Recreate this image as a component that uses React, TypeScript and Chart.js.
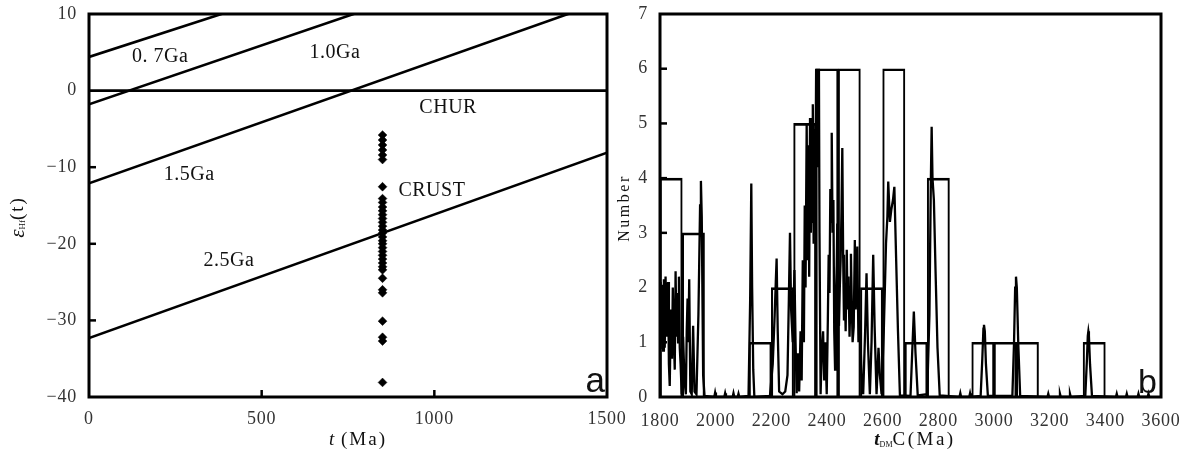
import React, { useEffect, useRef } from 'react';
import { Chart, registerables } from 'chart.js';

Chart.register(...registerables);

const SERIF = '"Liberation Serif", "DejaVu Serif", serif';
const SANS = '"Liberation Sans", "DejaVu Sans", sans-serif';

// ---------------- Panel a: εHf(t) vs t ----------------
const modelAges = [0, 1500];
const line07Ga = [4.4, 26.3];
const line10Ga = [-1.8, 21.3];
const line15Ga = [-12.1, 11.8];
const line25Ga = [-32.3, -8.1];
const churLine = [0, 0];
const sampleAge = 850;
const sampleEpsHf = [
  -5.8, -6.45, -7.1, -7.75, -8.4, -9.0,
  -12.55,
  -14.1, -14.6, -15.2, -15.7, -16.2, -16.7, -17.2, -17.7, -18.2, -18.6, -19.1, -19.6,
  -20.0, -20.5, -21.0, -21.5, -22.0, -22.5, -23.0, -23.4,
  -24.5, -26.0, -26.4,
  -30.1, -32.2, -32.7,
  -38.1,
];
const xTicksA = [0, 500, 1000, 1500];
const yTicksA = [10, 0, -10, -20, -30, -40];
const lineLabelsA = ['0. 7Ga', '1.0Ga', 'CHUR', '1.5Ga', 'CRUST', '2.5Ga'];
const lineLabelAgesA = [206, 712, 1040, 290, 993, 405];
const lineLabelEpsA = [4.4, 5.0, -2.3, -11.0, -13.1, -22.2];

// ---------------- Panel b: tDM C histogram ----------------
const binStarts = [1800, 1880, 2120, 2200, 2280, 2360, 2440, 2520, 2600, 2680, 2760, 2920, 3000, 3080, 3320];
const binCounts = [4, 3, 1, 2, 5, 6, 6, 2, 6, 1, 4, 1, 1, 1, 1];
const binWidth = 80;
const kdeAges = [
  1800, 1802, 1805, 1808, 1811, 1814, 1817, 1820, 1823, 1826, 1829, 1832, 1835, 1839, 1843, 1846, 1849, 1853,
  1856, 1859, 1862, 1865, 1868, 1871, 1874, 1878,
  1883, 1888, 1893, 1896, 1899, 1902, 1905, 1909, 1914, 1919, 1924, 1931, 1938, 1944, 1947, 1950, 1955, 1960,
  1995, 1998, 2001, 2031, 2034, 2037, 2061, 2064, 2067, 2079, 2082, 2085,
  2118, 2124, 2128, 2131, 2135, 2139,
  2195, 2205, 2212, 2216, 2219, 2223, 2228, 2240, 2250, 2258, 2263, 2267, 2271, 2277, 2283, 2287, 2291,
  2296, 2300, 2305, 2309, 2313, 2317, 2320, 2323, 2327, 2330, 2333, 2336, 2339, 2342, 2345, 2347, 2349,
  2352, 2355, 2358, 2361, 2364, 2366, 2369, 2371, 2373, 2377,
  2381, 2386, 2390, 2394, 2399, 2403, 2406, 2409, 2412, 2415, 2417, 2420, 2423, 2426, 2429, 2432, 2435,
  2437, 2440, 2443, 2446, 2449, 2452, 2455, 2458, 2461, 2464, 2467, 2471, 2474, 2477, 2481, 2484, 2486,
  2489, 2492, 2496, 2500, 2503, 2506, 2509, 2513, 2518, 2524, 2530, 2537, 2542, 2547, 2554,
  2560, 2566, 2571, 2578, 2585, 2590, 2596, 2604, 2612, 2617, 2620, 2626, 2631, 2637, 2642, 2648, 2655, 2662,
  2700, 2706, 2712, 2718, 2726,
  2760, 2768, 2773, 2776, 2779, 2784, 2790, 2797, 2805,
  2876, 2879, 2882, 2911, 2914, 2917,
  2952, 2958, 2962, 2964, 2967, 2971, 2978,
  3066, 3072, 3076, 3079, 3082, 3087, 3094,
  3192, 3195, 3198, 3234, 3237, 3240, 3270, 3273, 3276,
  3328, 3334, 3337, 3339, 3341, 3345, 3352,
  3438, 3441, 3444, 3474, 3477, 3480, 3516, 3519, 3522, 3552, 3555, 3558,
];
const kdeValues = [
  0.9, 2.1, 1.0, 2.05, 0.85, 2.15, 0.9, 2.2, 1.1, 2.0, 2.1, 0.6, 0.2, 1.6, 0.7, 2.0, 1.2, 0.5,
  2.3, 1.1, 1.9, 1.0, 2.2, 0.9, 0.6, 0.05,
  1.1, 0.3, 0.05, 1.2, 1.8, 1.0, 2.15, 0.1, 0.05, 1.3, 0.1, 0.05, 1.5, 3.5, 3.95, 3.3, 0.4, 0.02,
  0, 0.08, 0, 0, 0.07, 0, 0, 0.07, 0, 0, 0.06, 0,
  0.02, 1.8, 3.9, 2.0, 0.5, 0,
  0.02, 0.6, 1.5, 2.1, 2.53, 1.2, 0.1, 0.05, 0.1, 0.4, 1.8, 3.0, 1.6, 1.0, 2.32, 1.0, 0.07,
  0.8, 0.1, 1.2, 0.3, 2.5, 1.0, 3.5, 2.0, 5.0, 2.5, 4.6, 2.2, 5.1, 3.0, 4.8, 3.2, 5.35,
  2.8, 4.9, 3.5, 6.0, 4.2, 6.0, 5.0, 6.0, 3.0, 0.05,
  0.8, 1.2, 0.3, 1.0, 0.05, 1.4, 2.6, 1.9, 3.8, 3.2, 4.83, 3.0, 3.6, 1.2, 0.5, 1.8, 2.4,
  3.17, 2.0, 1.3, 2.0, 2.5, 3.4, 4.55, 2.6, 1.4, 2.0, 1.2, 2.69, 1.6, 2.2, 1.1, 1.8, 2.62,
  1.7, 1.0, 1.28, 2.87, 1.6, 2.2, 2.75, 1.0, 1.4, 0.4, 0.05, 1.2, 2.26, 1.0, 0.05,
  1.0, 2.6, 1.3, 0.05, 0.9, 0.4, 0.05, 1.2, 2.8, 3.3, 3.94, 3.2, 3.42, 3.6, 3.84, 2.6, 1.2, 0.03,
  0.02, 0.8, 1.56, 0.8, 0.03,
  0.05, 1.5, 3.9, 4.94, 4.0, 3.6, 2.3, 0.9, 0.03,
  0, 0.07, 0, 0, 0.07, 0,
  0.02, 0.7, 1.25, 1.32, 1.2, 0.6, 0.02,
  0.02, 1.0, 2.0, 2.2, 2.0, 1.0, 0.02,
  0, 0.06, 0, 0, 0.06, 0, 0, 0.06, 0,
  0.02, 0.7, 1.12, 1.2, 1.12, 0.6, 0.02,
  0, 0.06, 0, 0, 0.06, 0, 0, 0.06, 0, 0, 0.06, 0,
];
const xTicksB = [1800, 2000, 2200, 2400, 2600, 2800, 3000, 3200, 3400, 3600];
const yTicksB = [0, 1, 2, 3, 4, 5, 6, 7];

type Run = { text: string; font: string; dy?: number; spacing?: number };

function drawRuns(ctx: CanvasRenderingContext2D, runs: Run[], cx: number, cy: number, rotate: boolean) {
  ctx.save();
  ctx.translate(cx, cy);
  if (rotate) ctx.rotate(-Math.PI / 2);
  ctx.textBaseline = 'middle';
  ctx.textAlign = 'left';
  let total = 0;
  const widths = runs.map((r) => {
    ctx.font = r.font;
    (ctx as any).letterSpacing = (r.spacing || 0) + 'px';
    const w = ctx.measureText(r.text).width;
    total += w;
    return w;
  });
  let x = -total / 2;
  runs.forEach((r, i) => {
    ctx.font = r.font;
    (ctx as any).letterSpacing = (r.spacing || 0) + 'px';
    ctx.fillText(r.text, x, r.dy || 0);
    x += widths[i];
  });
  ctx.restore();
}

function makeDecor(opts: {
  yIn: number[];
  xIn: number[];
  labels: { text: string; x: number; y: number }[];
  corner: string;
  cornerFont: string;
  cornerDx: number;
  cornerDy: number;
  titles: { runs: Run[]; x: number; y: number; rotate: boolean }[];
}) {
  return {
    id: 'decor',
    beforeDraw(chart: any) {
      chart.ctx.letterSpacing = '0.8px';
    },
    afterDraw(chart: any) {
      const { ctx, chartArea: ca, scales } = chart;
      ctx.save();
      ctx.letterSpacing = '0px';
      ctx.strokeStyle = '#000';
      ctx.lineWidth = 3;
      ctx.strokeRect(ca.left, ca.top, ca.right - ca.left, ca.bottom - ca.top);
      ctx.lineWidth = 2.5;
      opts.yIn.forEach((v) => {
        const y = scales.y.getPixelForValue(v);
        ctx.beginPath();
        ctx.moveTo(ca.left, y);
        ctx.lineTo(ca.left + 7, y);
        ctx.stroke();
      });
      opts.xIn.forEach((v) => {
        const x = scales.x.getPixelForValue(v);
        ctx.beginPath();
        ctx.moveTo(x, ca.bottom);
        ctx.lineTo(x, ca.bottom - 7);
        ctx.stroke();
      });
      ctx.fillStyle = '#111';
      ctx.font = '20px ' + SERIF;
      ctx.textAlign = 'center';
      ctx.textBaseline = 'middle';
      ctx.letterSpacing = '0.5px';
      opts.labels.forEach((l) => {
        ctx.fillText(l.text, scales.x.getPixelForValue(l.x), scales.y.getPixelForValue(l.y));
      });
      ctx.letterSpacing = '0px';
      ctx.font = opts.cornerFont;
      ctx.textAlign = 'right';
      ctx.textBaseline = 'alphabetic';
      ctx.fillText(opts.corner, ca.right + opts.cornerDx, ca.bottom + opts.cornerDy);
      ctx.restore();
      ctx.save();
      ctx.fillStyle = '#111';
      opts.titles.forEach((t) => drawRuns(ctx, t.runs, t.x, t.y, t.rotate));
      ctx.restore();
    },
  };
}

const tickFont = { family: SERIF, size: 18 };
const fmt = (v: any) => {
  const n = Number(v);
  return n < 0 ? '\u2212' + Math.abs(n) : String(n);
};
const zeroPad = (s: any) => {
  s.paddingTop = 0;
  s.paddingBottom = 0;
  s.paddingLeft = 0;
  s.paddingRight = 0;
};

export default function App() {
  const leftRef = useRef<HTMLCanvasElement>(null);
  const rightRef = useRef<HTMLCanvasElement>(null);

  useEffect(() => {
    const lineSet = (vals: number[]) => ({
      data: modelAges.map((a, i) => ({ x: a, y: vals[i] })),
      showLine: true,
      borderColor: '#000',
      borderWidth: 2.6,
      pointRadius: 0,
      fill: false,
    });
    const chartA = new Chart(leftRef.current as HTMLCanvasElement, {
      type: 'scatter',
      data: {
        datasets: [
          lineSet(line07Ga),
          lineSet(line10Ga),
          lineSet(line15Ga),
          lineSet(line25Ga),
          lineSet(churLine),
          {
            data: sampleEpsHf.map((e) => ({ x: sampleAge, y: e })),
            pointStyle: 'rectRot',
            pointRadius: 4.4,
            backgroundColor: '#000',
            borderColor: '#000',
            borderWidth: 0.5,
          } as any,
        ],
      },
      options: {
        animation: false,
        responsive: false,
        events: [],
        plugins: { legend: { display: false }, tooltip: { enabled: false } },
        layout: { padding: { top: 14, right: 23, left: 0, bottom: 0 } },
        scales: {
          x: {
            type: 'linear',
            min: 0,
            max: 1500,
            afterBuildTicks: (s: any) => {
              s.ticks = xTicksA.map((v) => ({ value: v }));
            },
            ticks: { font: tickFont, color: '#333', padding: 11, callback: fmt, maxRotation: 0, autoSkip: false },
            grid: { display: false, drawTicks: false },
            border: { display: false },
            afterFit: (s: any) => {
              s.height = 56;
              zeroPad(s);
            },
          },
          y: {
            type: 'linear',
            min: -40,
            max: 10,
            afterBuildTicks: (s: any) => {
              s.ticks = yTicksA.map((v) => ({ value: v }));
            },
            ticks: { font: tickFont, color: '#333', padding: 12, callback: fmt },
            grid: { display: false, drawTicks: false },
            border: { display: false },
            afterFit: (s: any) => {
              s.width = 89;
              zeroPad(s);
            },
          },
        },
      } as any,
      plugins: [
        makeDecor({
          yIn: [-10, -20, -30],
          xIn: [500, 1000],
          labels: lineLabelsA.map((t, i) => ({ text: t, x: lineLabelAgesA[i], y: lineLabelEpsA[i] })),
          corner: 'a',
          cornerFont: '35px ' + SANS,
          cornerDx: -2,
          cornerDy: -5,
          titles: [
            {
              runs: [
                { text: 'ε', font: 'italic 21px ' + SERIF },
                { text: 'Hf', font: '9px ' + SERIF, dy: 5 },
                { text: '(t)', font: '19px ' + SERIF, spacing: 2 },
              ],
              x: 18,
              y: 217,
              rotate: true,
            },
            {
              runs: [
                { text: 't', font: 'italic 19px ' + SERIF },
                { text: ' (Ma)', font: '19px ' + SERIF, spacing: 2 },
              ],
              x: 358,
              y: 440,
              rotate: false,
            },
          ],
        }) as any,
      ],
    });

    const chartB = new Chart(rightRef.current as HTMLCanvasElement, {
      type: 'bar',
      data: {
        datasets: [
          {
            type: 'line',
            data: kdeAges.map((a, i) => ({ x: a, y: kdeValues[i] })),
            borderColor: '#000',
            borderWidth: 2.3,
            pointRadius: 0,
            tension: 0,
            fill: false,
            order: 0,
          } as any,
          {
            type: 'bar',
            data: binStarts.map((s, i) => ({ x: s + binWidth / 2, y: binCounts[i] })),
            backgroundColor: 'rgba(0,0,0,0)',
            borderColor: '#000',
            borderWidth: { top: 2, left: 1.4, right: 1.4, bottom: 0 },
            borderSkipped: false,
            barPercentage: 1,
            categoryPercentage: 1,
            order: 1,
          } as any,
        ],
      },
      options: {
        animation: false,
        responsive: false,
        events: [],
        plugins: { legend: { display: false }, tooltip: { enabled: false } },
        layout: { padding: { top: 14, right: 23, left: 0, bottom: 0 } },
        scales: {
          x: {
            type: 'linear',
            min: 1800,
            max: 3600,
            offset: false,
            afterBuildTicks: (s: any) => {
              s.ticks = xTicksB.map((v) => ({ value: v }));
            },
            ticks: { font: tickFont, color: '#333', padding: 13, callback: fmt, maxRotation: 0, autoSkip: false },
            grid: { display: false, offset: false, drawTicks: false },
            border: { display: false },
            afterFit: (s: any) => {
              s.height = 56;
              zeroPad(s);
            },
          },
          y: {
            type: 'linear',
            min: 0,
            max: 7,
            afterBuildTicks: (s: any) => {
              s.ticks = yTicksB.map((v) => ({ value: v }));
            },
            ticks: { font: tickFont, color: '#333', padding: 12, callback: fmt },
            grid: { display: false, drawTicks: false },
            border: { display: false },
            afterFit: (s: any) => {
              s.width = 55;
              zeroPad(s);
            },
          },
        },
      } as any,
      plugins: [
        makeDecor({
          yIn: [1, 2, 3, 4, 5, 6],
          xIn: [],
          labels: [],
          corner: 'b',
          cornerFont: '34px ' + SANS,
          cornerDx: -4,
          cornerDy: -4,
          titles: [
            {
              runs: [{ text: 'Number', font: '16px ' + SERIF, spacing: 2.5 }],
              x: 20,
              y: 208,
              rotate: true,
            },
            {
              runs: [
                { text: 't', font: 'italic bold 19px ' + SERIF },
                { text: 'DM', font: '8px ' + SERIF, dy: 5 },
                { text: 'C(Ma)', font: '19px ' + SERIF, spacing: 2.5 },
              ],
              x: 310,
              y: 440,
              rotate: false,
            },
          ],
        }) as any,
      ],
    });

    return () => {
      chartA.destroy();
      chartB.destroy();
    };
  }, []);

  return (
    <div style={{ position: 'fixed', left: 0, top: 0, width: 1184, height: 453, background: '#fff' }}>
      <canvas ref={leftRef} width={630} height={453} style={{ position: 'absolute', left: 0, top: 0 }} />
      <canvas ref={rightRef} width={579} height={453} style={{ position: 'absolute', left: 605, top: 0 }} />
    </div>
  );
}
